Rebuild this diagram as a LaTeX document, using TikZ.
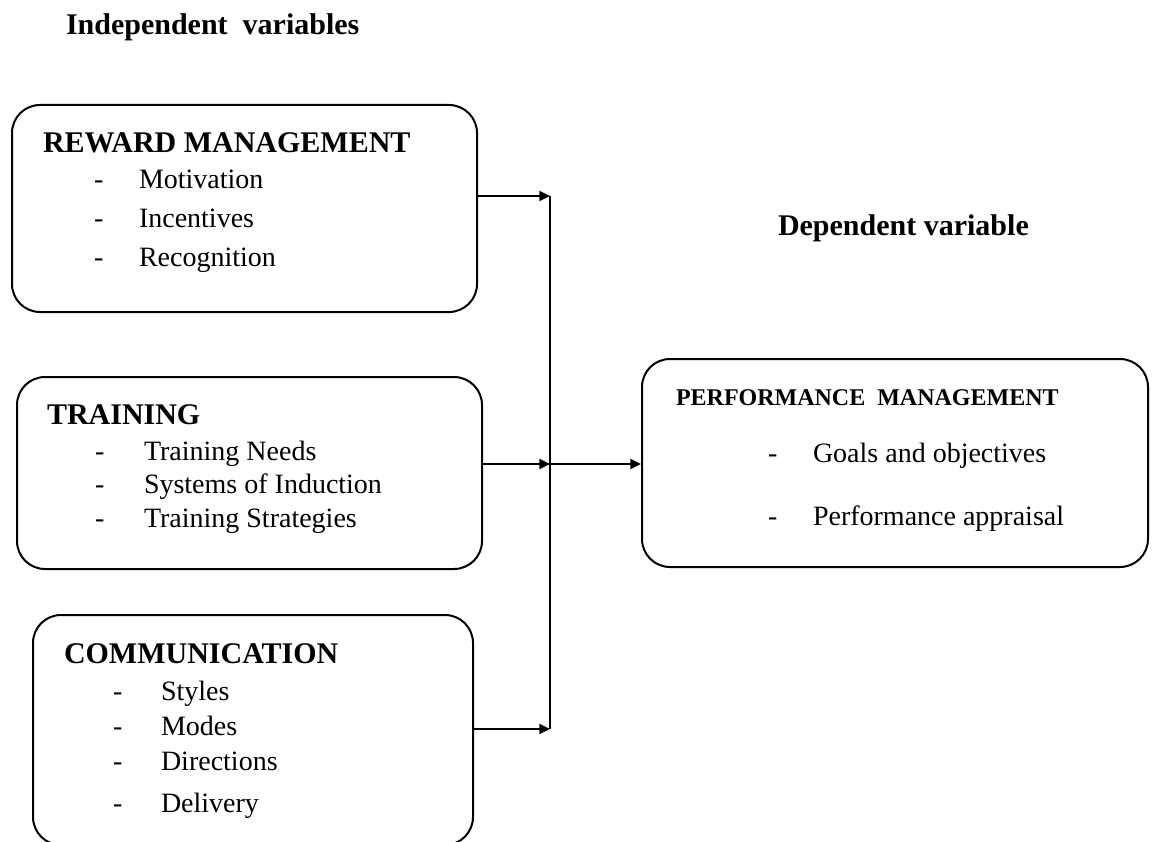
\documentclass[tikz,border=0pt]{standalone}
\usepackage{fontspec}
\setmainfont{Liberation Serif}
\usetikzlibrary{arrows.meta}

\begin{document}
\begin{tikzpicture}[x=0.75pt, y=-0.75pt, line width=1.5pt,
  box/.style={draw, rounded corners=21pt, inner sep=0pt},
  hd/.style={anchor=base west, inner sep=0pt, font=\fontsize{22.5}{27}\selectfont\bfseries},
  txt/.style={anchor=base west, inner sep=0pt, font=\fontsize{21}{25}\selectfont},
  arr/.style={-{Triangle[length=8pt,width=7.5pt]}}]

  \useasboundingbox (0,0) rectangle (1172,842);

  \newcommand\Dx{45}

  %% headings
  \node[hd] (indep) at (65,35) {Independent\ \ variables};
  \node[hd] (dep) at (777,235) {Dependent variable};

  %% reward management
  \node[box, minimum width=348.75pt, minimum height=155.25pt] (rew) at (244.5,208.5) {};
  \node[hd] (rewT) at (42,152) {REWARD MANAGEMENT};
  \foreach \t [count=\i] in {Motivation, Incentives, Recognition}{
    \node[txt] (rewD\i) at (93, 149+39*\i) {-};
    \node[txt] (rewI\i) at (93+\Dx, 149+39*\i) {\t};
  }

  %% training
  \node[box, minimum width=348.75pt, minimum height=144pt] (trn) at (249.5,473) {};
  \node[hd] (trnT) at (46,424) {TRAINING};
  \foreach \t [count=\i] in {Training Needs, Systems of Induction, Training Strategies}{
    \node[txt] (trnD\i) at (94, 426.5+33.5*\i) {-};
    \node[txt] (trnI\i) at (143, 426.5+33.5*\i) {\t};
  }

  %% communication
  \node[box, minimum width=330pt, minimum height=172.5pt] (com) at (253,730) {};
  \node[hd] (comT) at (63,663) {COMMUNICATION};
  \foreach \t/\y [count=\i] in {Styles/700, Modes/735, Directions/770, Delivery/812}{
    \node[txt] (comD\i) at (112,\y) {-};
    \node[txt] (comI\i) at (160,\y) {\t};
  }

  %% performance management
  \node[box, minimum width=379.5pt, minimum height=156pt] (perf) at (895,463) {};
  \node[anchor=base west, inner sep=0pt, font=\fontsize{18}{22}\selectfont\bfseries] (perfT) at (675,405) {PERFORMANCE\ \ MANAGEMENT};
  \foreach \t/\y [count=\i] in {Goals and objectives/462, Performance appraisal/525}{
    \node[txt] (perfD\i) at (767,\y) {-};
    \node[txt] (perfI\i) at (812,\y) {\t};
  }

  %% connectors
  \coordinate (j1) at (550,196);
  \coordinate (j2) at (550,464);
  \coordinate (j3) at (550,729);

  \draw (j1) -- (j3); % collector
  \draw[arr] (rew.east |- j1) -- (j1); % reward -> line
  \draw[arr] (trn.east |- j2) -- (j2); % training -> line
  \draw[arr] (com.east |- j3) -- (j3); % communication -> line
  \draw[arr] (j2) -- (perf.west |- j2); % line -> performance

\end{tikzpicture}
\end{document}
